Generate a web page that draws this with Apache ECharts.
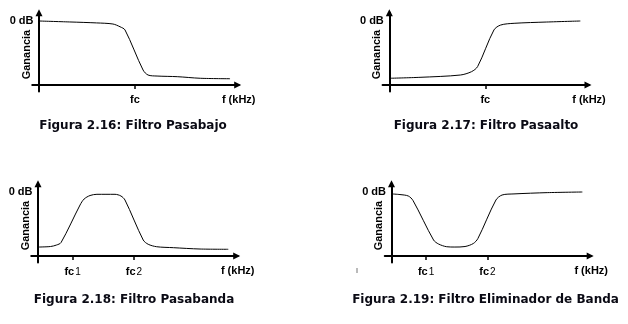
<!DOCTYPE html>
<html>
<head>
<meta charset="utf-8">
<script src="https://cdn.jsdelivr.net/npm/echarts@6/dist/echarts.min.js"></script>
<style>
  html, body { margin: 0; padding: 0; background: #fff; }
  #chart { width: 628px; height: 324px; }
</style>
</head>
<body>
<div id="chart"></div>
<script>
// Frequency axis: arbitrary units, cutoff of the single-pole filters at 5.
// Gain axis: normalised magnitude, 1 = 0 dB.

// Figura 2.16 - low-pass
const lpFreq = [0, 1.6, 3.0, 3.85, 4.22, 4.48, 5.42, 5.68, 6.15, 7.2, 8.4, 9.95];
const lpGain = [1.0, 0.985, 0.97, 0.953, 0.91, 0.86, 0.234, 0.156, 0.14, 0.13, 0.105, 0.098];
const lpCuts = [5];

// Figura 2.17 - high-pass
const hpFreq = [0, 1.6, 3.7, 4.28, 4.6, 5.45, 5.8, 6.5, 8.2, 9.95];
const hpGain = [0.105, 0.12, 0.156, 0.208, 0.288, 0.86, 0.937, 0.964, 0.984, 1.0];
const hpCuts = [5];

// Figura 2.18 - band-pass
const bpFreq = [0, 0.65, 0.97, 1.2, 2.19, 2.4, 2.71, 3.07, 4.01, 4.32, 4.53, 5.48, 5.74, 6.18, 7.05, 8.44, 9.91];
const bpGain = [0.14, 0.148, 0.172, 0.21, 0.797, 0.89, 0.945, 0.964, 0.964, 0.9375, 0.875, 0.25, 0.183, 0.145, 0.13, 0.109, 0.105];
const bpCuts = [1.8, 5];

// Figura 2.19 - band-stop
const bsFreq = [0, 0.44, 0.875, 1.12, 2.19, 2.45, 2.875, 3.3, 3.83, 4.26, 4.5, 5.44, 5.76, 6.38, 8.11, 9.94];
const bsGain = [0.97, 0.96, 0.9375, 0.867, 0.25, 0.1875, 0.145, 0.14, 0.148, 0.195, 0.273, 0.875, 0.953, 0.97, 0.99, 1.0];
const bsCuts = [1.8, 5];

const titles = [
  'Figura 2.16: Filtro Pasabajo',
  'Figura 2.17: Filtro Pasaalto',
  'Figura 2.18: Filtro Pasabanda',
  'Figura 2.19: Filtro Eliminador de Banda'
];
const cutLabelsSingle = ['fc'];
const cutLabelsDouble = ['{b|fc}{s|1}', '{b|fc}{s|2}'];
const freqName = 'f (kHz)';
const gainName = 'Ganancia';
const refLabel = '0 dB';

// Axis extents (data units)
const X_MIN = -0.35, X_MAX = 10.4, Y_MIN = -0.1, Y_MAX = 1.13;

// Panel placement: pixel position of the axes crossing, pixel scale per unit
const panels = [
  { ox: 39,    oy: 85,  freq: lpFreq, gain: lpGain, cuts: lpCuts, cutLabels: cutLabelsSingle, titleX: 133, titleY: 126 },
  { ox: 389.3, oy: 85,  freq: hpFreq, gain: hpGain, cuts: hpCuts, cutLabels: cutLabelsSingle, titleX: 486, titleY: 126 },
  { ox: 38,    oy: 256, freq: bpFreq, gain: bpGain, cuts: bpCuts, cutLabels: cutLabelsDouble, titleX: 134, titleY: 300 },
  { ox: 391.5, oy: 256, freq: bsFreq, gain: bsGain, cuts: bsCuts, cutLabels: cutLabelsDouble, titleX: 485.5, titleY: 300 }
];
const SX = 19.2, SY = 64;

// Labels are laid out from the grid edge, not from the crossing axis line,
// so their gaps are measured back from the overhang of each axis.
const X_OVERHANG = -X_MIN * SX;   // axis line to grid left edge
const Y_OVERHANG = -Y_MIN * SY;   // axis line to grid bottom edge

const labelFont = '"Liberation Sans", Arial, sans-serif';
const titleFont = '"DejaVu Sans", Verdana, sans-serif';

const grid = [], xAxis = [], yAxis = [], series = [], title = [];

panels.forEach(function (p, i) {
  grid.push({
    left: p.ox + X_MIN * SX,
    top: p.oy - Y_MAX * SY,
    width: (X_MAX - X_MIN) * SX,
    height: (Y_MAX - Y_MIN) * SY,
    containLabel: false,
    outerBoundsMode: 'none'
  });

  const tickVals = p.cuts.slice();
  const labelVals = p.cuts.concat([X_MAX]);
  xAxis.push({
    type: 'value',
    gridIndex: i,
    min: X_MIN,
    max: X_MAX,
    splitLine: { show: false },
    axisLine: {
      onZero: true,
      lineStyle: { color: '#000', width: 2 },
      symbol: ['none', 'triangle'],
      symbolSize: [7, 7],
      symbolOffset: [0, -1]
    },
    axisTick: {
      show: true,
      customValues: tickVals,
      length: 4,
      lineStyle: { color: '#000', width: 1.5 }
    },
    axisLabel: {
      customValues: labelVals,
      margin: 8 - Y_OVERHANG,
      color: '#000',
      fontFamily: labelFont,
      fontSize: 11,
      fontWeight: 'bold',
      lineHeight: 13,
      formatter: function (v) {
        if (v === X_MAX) return freqName;
        const k = p.cuts.indexOf(v);
        return k >= 0 ? p.cutLabels[k] : '';
      },
      rich: {
        b: { fontFamily: labelFont, fontSize: 11, fontWeight: 'bold', color: '#000', lineHeight: 13, verticalAlign: 'bottom' },
        s: { fontFamily: labelFont, fontSize: 10, fontWeight: 'normal', color: '#000', lineHeight: 13, verticalAlign: 'bottom', padding: [0, 0, 0, 1] }
      }
    }
  });

  yAxis.push({
    type: 'value',
    gridIndex: i,
    min: Y_MIN,
    max: Y_MAX,
    splitLine: { show: false },
    axisLine: {
      show: true,
      onZero: true,
      lineStyle: { color: '#000', width: 2 },
      symbol: ['none', 'triangle'],
      symbolSize: [7, 7]
    },
    axisTick: { show: false },
    axisLabel: {
      customValues: [1],
      margin: 5.5 - X_OVERHANG,
      color: '#000',
      fontFamily: labelFont,
      fontSize: 11,
      fontWeight: 'bold',
      formatter: function () { return refLabel; }
    },
    name: gainName,
    nameLocation: 'middle',
    nameRotate: 90,
    nameGap: 7 - X_OVERHANG,
    nameMoveOverlap: false,
    nameTextStyle: {
      color: '#000',
      fontFamily: labelFont,
      fontSize: 11,
      fontWeight: 'bold',
      padding: [0, 5, 0, 0]
    }
  });

  series.push({
    type: 'line',
    xAxisIndex: i,
    yAxisIndex: i,
    data: p.freq.map(function (f, k) { return [f, p.gain[k]]; }),
    showSymbol: false,
    smooth: 0.3,
    lineStyle: { color: '#000', width: 1 },
    animation: false
  });

  title.push({
    text: titles[i],
    left: p.titleX,
    top: p.titleY,
    padding: 0,
    textAlign: 'center',
    textVerticalAlign: 'middle',
    textStyle: {
      color: '#0a0a14',
      fontFamily: titleFont,
      fontSize: 12,
      fontWeight: 'bold'
    }
  });
});

const chart = echarts.init(document.getElementById('chart'), null, { renderer: 'canvas' });
chart.setOption({
  animation: false,
  backgroundColor: '#fff',
  title: title,
  grid: grid,
  xAxis: xAxis,
  yAxis: yAxis,
  series: series,
  graphic: [
    { type: 'rect', left: 356.5, top: 268, shape: { width: 1, height: 5 }, style: { fill: '#777' }, silent: true }
  ]
});
</script>
</body>
</html>
